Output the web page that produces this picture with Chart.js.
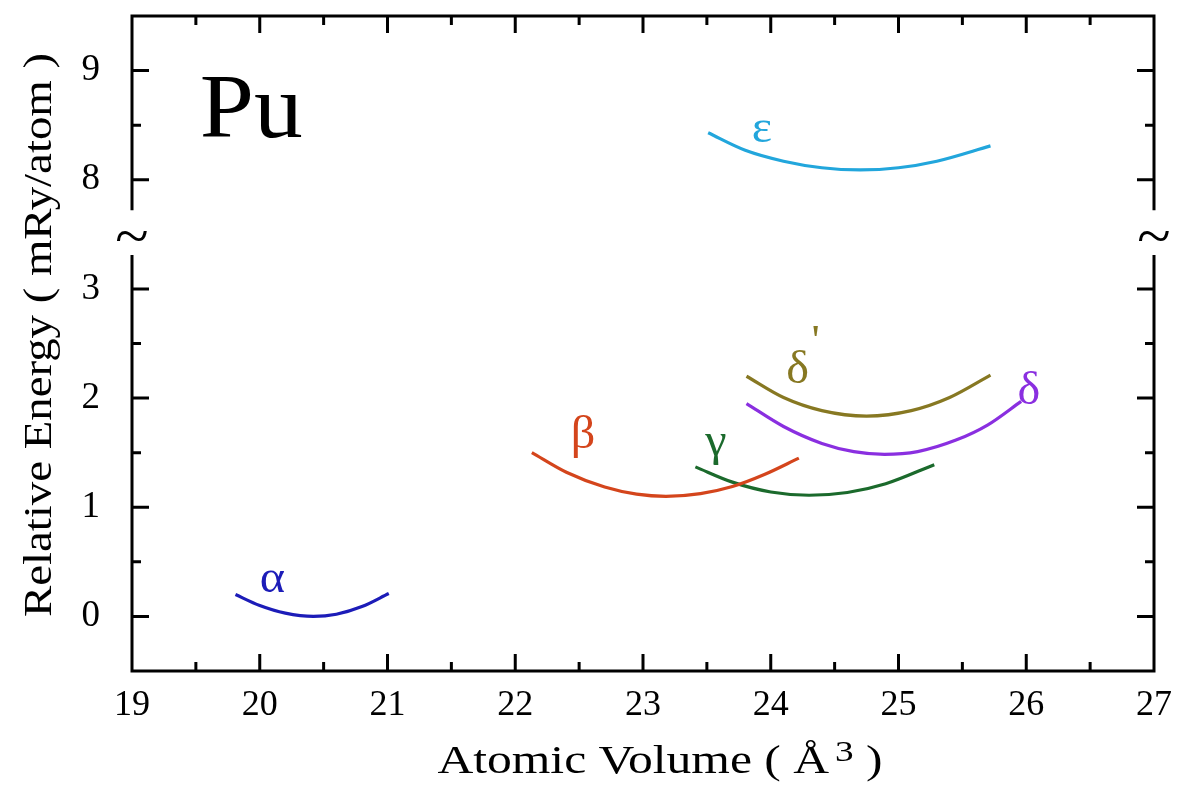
<!DOCTYPE html>
<html>
<head>
<meta charset="utf-8">
<script src="https://cdn.jsdelivr.net/npm/chart.js@4/dist/chart.umd.min.js"></script>
<style>
  html, body { margin: 0; padding: 0; background: #fff; }
  #wrap { width: 1182px; height: 787px; position: relative; }
</style>
</head>
<body>
<div id="wrap"><canvas id="puChart"></canvas></div>
<script>
// Values (volume in Å^3, energy in mRy/atom)
const alphaPts = [[19.81, 0.20], [20.0, 0.10], [20.2, 0.03], [20.42, 0.0], [20.6, 0.02], [20.8, 0.09], [21.01, 0.21]];
const betaPts = [[22.13, 1.50], [22.4, 1.32], [22.7, 1.185], [22.95, 1.12], [23.18, 1.10], [23.45, 1.125], [23.7, 1.19], [23.95, 1.30], [24.22, 1.45]];
const gammaPts = [[23.41, 1.37], [23.7, 1.23], [24.0, 1.14], [24.3, 1.11], [24.6, 1.135], [24.9, 1.215], [25.28, 1.39]];
const deltaPrimePts = [[23.81, 2.20], [24.1, 2.005], [24.4, 1.885], [24.75, 1.835], [25.1, 1.885], [25.4, 2.005], [25.72, 2.21]];
const deltaPts = [[23.81, 1.95], [24.1, 1.74], [24.4, 1.585], [24.65, 1.51], [24.89, 1.485], [25.15, 1.51], [25.45, 1.615], [25.7, 1.755], [25.96, 1.97]];
const epsilonPts = [[23.51, 8.43], [23.8, 8.27], [24.1, 8.17], [24.4, 8.11], [24.7, 8.09], [25.0, 8.11], [25.3, 8.17], [25.72, 8.31]];

const phaseNames = ["α", "β", "γ", "δ'", "δ", "ε"];
const phaseColors = ["#1c1cb8", "#d4451c", "#1b6a2c", "#877822", "#8a2fe0", "#22a6dc"];

const xTicks = [19, 20, 21, 22, 23, 24, 25, 26, 27];
const yTickValues = [0, 1, 2, 3, 8, 9];

// broken y axis: everything above the break is shifted down by 4
const BREAK_SHIFT = 4;
const toAxis = (v) => (v > 5 ? v - BREAK_SHIFT : v);

const seriesPts = [alphaPts, betaPts, gammaPts, deltaPrimePts, deltaPts, epsilonPts];

// where the greek letters sit (data units)
const labelSpots = [
  [20.10, 0.33], [22.53, 1.65], [23.57, 1.59], [24.21, 2.25], [26.02, 2.06], [23.93, 8.46]
];

const serif = "'Liberation Serif', 'DejaVu Serif', serif";

// stretched serif text, like the original plot's wide Times
function wideText(ctx, text, x, y, size, stretch) {
  ctx.save();
  ctx.translate(x, y);
  ctx.scale(stretch, 1);
  ctx.font = size + "px " + serif;
  ctx.fillText(text, 0, 0);
  ctx.restore();
}

const framePlugin = {
  id: "frame",
  afterDatasetsDraw(chart) {
    const { ctx, chartArea: a, scales } = chart;
    const xs = scales.x, ys = scales.y;
    const yBreak = ys.getPixelForValue(3.5);
    const gapTop = ys.getPixelForValue(3.72);
    const gapBot = ys.getPixelForValue(3.31);
    ctx.save();
    ctx.strokeStyle = "#000";
    ctx.lineWidth = 3;
    ctx.lineCap = "butt";
    ctx.beginPath();
    ctx.moveTo(a.left - 1.5, a.top); ctx.lineTo(a.right + 1.5, a.top);
    ctx.moveTo(a.left - 1.5, a.bottom); ctx.lineTo(a.right + 1.5, a.bottom);
    [a.left, a.right].forEach((px) => {
      ctx.moveTo(px, a.top); ctx.lineTo(px, gapTop);
      ctx.moveTo(px, gapBot); ctx.lineTo(px, a.bottom);
    });
    for (let v = 19.5; v < 27; v += 0.5) {
      const px = xs.getPixelForValue(v);
      const len = Number.isInteger(v) ? 17 : 9;
      ctx.moveTo(px, a.bottom); ctx.lineTo(px, a.bottom - len);
      ctx.moveTo(px, a.top); ctx.lineTo(px, a.top + len);
    }
    const yMajor = [0, 1, 2, 3, 4, 5];
    const yMinor = [0.5, 1.5, 2.5, 4.5];
    yMajor.concat(yMinor).forEach((v) => {
      const py = ys.getPixelForValue(v);
      const len = yMajor.includes(v) ? 17 : 9;
      ctx.moveTo(a.left, py); ctx.lineTo(a.left + len, py);
      ctx.moveTo(a.right, py); ctx.lineTo(a.right - len, py);
    });
    ctx.stroke();

    // break marks
    ctx.fillStyle = "#000";
    ctx.textAlign = "center";
    ctx.textBaseline = "middle";
    wideText(ctx, "~", a.left, yBreak + 6, 56, 1.1);
    wideText(ctx, "~", a.right, yBreak + 6, 56, 1.1);

    // Pu
    ctx.textAlign = "left";
    ctx.textBaseline = "alphabetic";
    wideText(ctx, "Pu", xs.getPixelForValue(19.53), ys.getPixelForValue(toAxis(8.37)) - 2, 92, 1.06);

    // x axis title with superscript
    const mainX = "Atomic Volume ( Å";
    const sx = 1.24;
    ctx.font = "40px " + serif;
    const wMain = ctx.measureText(mainX).width * sx;
    const wEnd = ctx.measureText(" )").width * sx;
    ctx.font = "30px " + serif;
    const w3 = ctx.measureText("3").width * sx;
    const gap = 6;
    const total = wMain + gap + w3 + wEnd;
    let tx = 660 - total / 2;
    const base = 773;
    wideText(ctx, mainX, tx, base, 40, sx);
    tx += wMain + gap;
    wideText(ctx, "3", tx, base - 12, 30, sx);
    tx += w3;
    wideText(ctx, " )", tx, base, 40, sx);

    // y axis title
    ctx.save();
    ctx.translate(40, 335);
    ctx.rotate(-Math.PI / 2);
    ctx.textAlign = "center";
    ctx.textBaseline = "middle";
    wideText(ctx, "Relative Energy ( mRy/atom )", 0, 0, 40, 1.17);
    ctx.restore();

    // phase labels
    ctx.textAlign = "center";
    ctx.textBaseline = "middle";
    labelSpots.forEach(([x, y], i) => {
      const px = xs.getPixelForValue(x);
      const py = ys.getPixelForValue(toAxis(y));
      ctx.fillStyle = phaseColors[i];
      const name = phaseNames[i];
      if (name.endsWith("'")) {
        wideText(ctx, name.slice(0, -1), px, py, 46, 1.05);
        wideText(ctx, "'", px + 18, py - 28, 42, 1.1);
      } else {
        wideText(ctx, name, px, py, 46, 1.05);
      }
    });
    ctx.restore();
  },
};

const datasets = seriesPts.map((pts, i) => ({
  label: phaseNames[i],
  data: pts.map(([x, y]) => ({ x, y: toAxis(y) })),
  borderColor: phaseColors[i],
  borderWidth: 3.2,
  pointRadius: 0,
  fill: false,
  cubicInterpolationMode: "monotone",
}));

new Chart(document.getElementById("puChart"), {
  type: "line",
  data: { datasets },
  options: {
    responsive: true,
    maintainAspectRatio: false,
    animation: false,
    layout: { padding: { top: 16, right: 28, left: 0, bottom: 0 } },
    plugins: { legend: { display: false }, tooltip: { enabled: false } },
    scales: {
      x: {
        type: "linear",
        min: 19,
        max: 27,
        afterFit: (s) => { s.height = 116; s.paddingLeft = 0; s.paddingRight = 0; },
        afterBuildTicks: (s) => { s.ticks = xTicks.map((v) => ({ value: v })); },
        grid: { display: false },
        border: { display: false },
        ticks: { color: "#000", font: { family: serif, size: 36 }, padding: 5 },
      },
      y: {
        type: "linear",
        min: -0.5,
        max: 5.5,
        afterFit: (s) => { s.width = 132; s.paddingTop = 0; s.paddingBottom = 0; },
        afterBuildTicks: (s) => { s.ticks = yTickValues.map((v) => ({ value: toAxis(v) })); },
        grid: { display: false },
        border: { display: false },
        ticks: {
          color: "#000",
          font: { family: serif, size: 37 },
          padding: 24,
          callback: (v) => String(v > 3.5 ? v + BREAK_SHIFT : v),
        },
      },
    },
  },
  plugins: [framePlugin],
});
</script>
</body>
</html>
